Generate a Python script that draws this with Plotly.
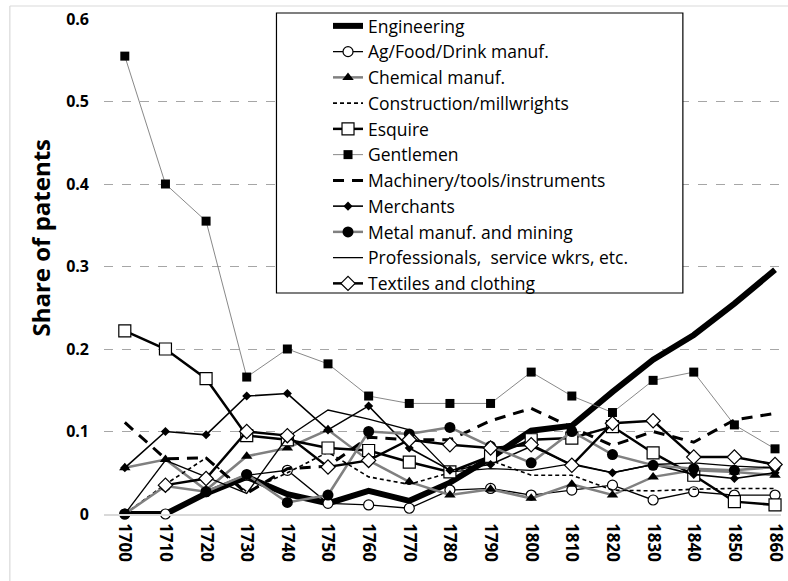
import plotly.graph_objects as go

years = [1700, 1710, 1720, 1730, 1740, 1750, 1760, 1770, 1780, 1790,
         1800, 1810, 1820, 1830, 1840, 1850, 1860]
year_labels = [str(y) for y in years]

engineering = [0.0, 0.0, 0.025, 0.045, 0.024, 0.013, 0.028, 0.016, 0.038, 0.068,
               0.101, 0.107, 0.148, 0.187, 0.217, 0.255, 0.296]
ag_food = [0.0, 0.0, 0.027, 0.047, 0.053, 0.013, 0.011, 0.007, 0.029, 0.031,
           0.023, 0.029, 0.035, 0.017, 0.027, 0.023, 0.023]
chemical = [0.056, 0.066, 0.029, 0.07, 0.08, 0.102, 0.065, 0.039, 0.023, 0.03,
            0.019, 0.036, 0.023, 0.045, 0.053, 0.051, 0.047]
construction = [0.0, 0.036, 0.068, 0.027, 0.05, 0.075, 0.045, 0.036, 0.05, 0.065,
                0.047, 0.047, 0.029, 0.028, 0.03, 0.031, 0.031]
esquire = [0.222, 0.2, 0.164, 0.095, 0.09, 0.08, 0.077, 0.063, 0.051, 0.07,
           0.09, 0.092, 0.106, 0.074, 0.047, 0.015, 0.011]
gentlemen = [0.555, 0.4, 0.355, 0.166, 0.2, 0.182, 0.143, 0.134, 0.134, 0.134,
             0.172, 0.143, 0.123, 0.162, 0.172, 0.108, 0.079]
machinery = [0.111, 0.067, 0.068, 0.025, 0.055, 0.058, 0.093, 0.09, 0.09, 0.113,
             0.128, 0.105, 0.083, 0.1, 0.087, 0.114, 0.122]
merchants = [0.056, 0.1, 0.096, 0.143, 0.146, 0.102, 0.131, 0.08, 0.053, 0.06,
             0.082, 0.06, 0.05, 0.06, 0.048, 0.043, 0.05]
metal = [0.0, 0.034, 0.027, 0.048, 0.014, 0.023, 0.1, 0.097, 0.105, 0.082,
         0.062, 0.1, 0.072, 0.059, 0.055, 0.053, 0.057]
professionals = [0.0, 0.065, 0.045, 0.025, 0.093, 0.126, 0.115, 0.102, 0.051, 0.055,
                 0.053, 0.061, 0.05, 0.06, 0.062, 0.058, 0.056]
textiles = [None, 0.035, 0.043, 0.1, 0.095, 0.057, 0.065, 0.09, 0.084, 0.08,
            0.084, 0.059, 0.11, 0.113, 0.069, 0.069, 0.06]

y_ticks = [0, 0.1, 0.2, 0.3, 0.4, 0.5, 0.6]
y_tick_labels = ["0", "0.1", "0.2", "0.3", "0.4", "0.5", "0.6"]

series = [
    ("Engineering", engineering, dict(color="black", width=6), None),
    ("Ag/Food/Drink manuf.", ag_food, dict(color="black", width=1.3),
     dict(symbol="circle", size=10, color="white", line=dict(color="black", width=1.2))),
    ("Chemical manuf.", chemical, dict(color="#808080", width=2.5),
     dict(symbol="triangle-up", size=10, color="black")),
    ("Construction/millwrights", construction, dict(color="black", width=1.6, dash="4px,3px"), None),
    ("Esquire", esquire, dict(color="black", width=2.5),
     dict(symbol="square", size=12, color="white", line=dict(color="black", width=1.2))),
    ("Gentlemen", gentlemen, dict(color="#7a7a7a", width=0.9),
     dict(symbol="square", size=9, color="black")),
    ("Machinery/tools/instruments", machinery, dict(color="black", width=3, dash="11px,8px"), None),
    ("Merchants", merchants, dict(color="black", width=1.6),
     dict(symbol="diamond", size=7, color="black")),
    ("Metal manuf. and mining", metal, dict(color="#808080", width=2.5),
     dict(symbol="circle", size=11, color="black")),
    ("Professionals,  service wkrs, etc.", professionals, dict(color="black", width=1.3), None),
    ("Textiles and clothing", textiles, dict(color="black", width=2.5),
     dict(symbol="diamond", size=11, color="white", line=dict(color="black", width=1.2))),
]

fig = go.Figure()
for i, (name, vals, line, marker) in enumerate(series):
    kw = dict(x=years, y=vals, name=name, line=line, cliponaxis=False,
              legendgroup=f"g{i}", connectgaps=False)
    if marker is None:
        kw["mode"] = "lines"
    else:
        kw["mode"] = "lines+markers"
        kw["marker"] = marker
    fig.add_trace(go.Scatter(**kw))

W, H = 788, 581
L, R, T, B = 104, 1, 19, 67
pw, ph = W - L - R, H - T - B

def px_x(p):
    return (p - L) / pw

def px_y(p):
    return (H - B - p) / ph

FONT = "Open Sans, Lato, sans-serif"

fig.add_shape(type="rect", xref="paper", yref="paper",
              x0=px_x(278), x1=px_x(688), y0=px_y(293), y1=px_y(13),
              fillcolor="white", line=dict(color="black", width=1.2), layer="above")
fig.add_shape(type="line", xref="paper", yref="paper",
              x0=px_x(9), x1=px_x(800), y0=px_y(6), y1=px_y(6),
              line=dict(color="#d9d9d9", width=1.2), layer="below")
fig.add_shape(type="line", xref="paper", yref="paper",
              x0=px_x(9), x1=px_x(9), y0=px_y(6), y1=px_y(600),
              line=dict(color="#d9d9d9", width=1.2), layer="below")

fig.add_annotation(text="Share of patents", xref="paper", yref="paper",
                   x=px_x(40), y=px_y(238), textangle=-90, showarrow=False,
                   xanchor="center", yanchor="middle",
                   font=dict(size=24, weight="bold", family=FONT, color="black"))

fig.update_layout(
    width=W, height=H,
    margin=dict(l=L, r=R, t=T, b=B),
    paper_bgcolor="white", plot_bgcolor="white",
    font=dict(family=FONT, color="black"),
    showlegend=True,
    legend=dict(x=px_x(330), y=px_y(8), xanchor="left", yanchor="top",
                bgcolor="rgba(0,0,0,0)", borderwidth=0, maxheight=600,
                font=dict(size=17.5, family=FONT, color="black"),
                tracegroupgap=0),
    xaxis=dict(range=[1694.88, 1861.47], tickvals=years, ticktext=year_labels,
               tickangle=90, showgrid=False, zeroline=False,
               showline=True, linecolor="#d9d9d9", linewidth=1.5,
               ticks="", ticklabelstandoff=4, ticklabeloverflow="allow",
               tickfont=dict(size=17, weight="bold", family=FONT, color="black")),
    yaxis=dict(range=[0, 0.6], tickvals=y_ticks, ticktext=y_tick_labels,
               showgrid=True, gridcolor="#a6a6a6", gridwidth=1, griddash="dash",
               zeroline=False, ticks="", ticklabelstandoff=14,
               tickfont=dict(size=16, weight="bold", family=FONT, color="black")),
)

fig.write_html("out.html", config={"displayModeBar": False},
               post_script="document.body.style.margin='0';document.body.style.padding='0';")
